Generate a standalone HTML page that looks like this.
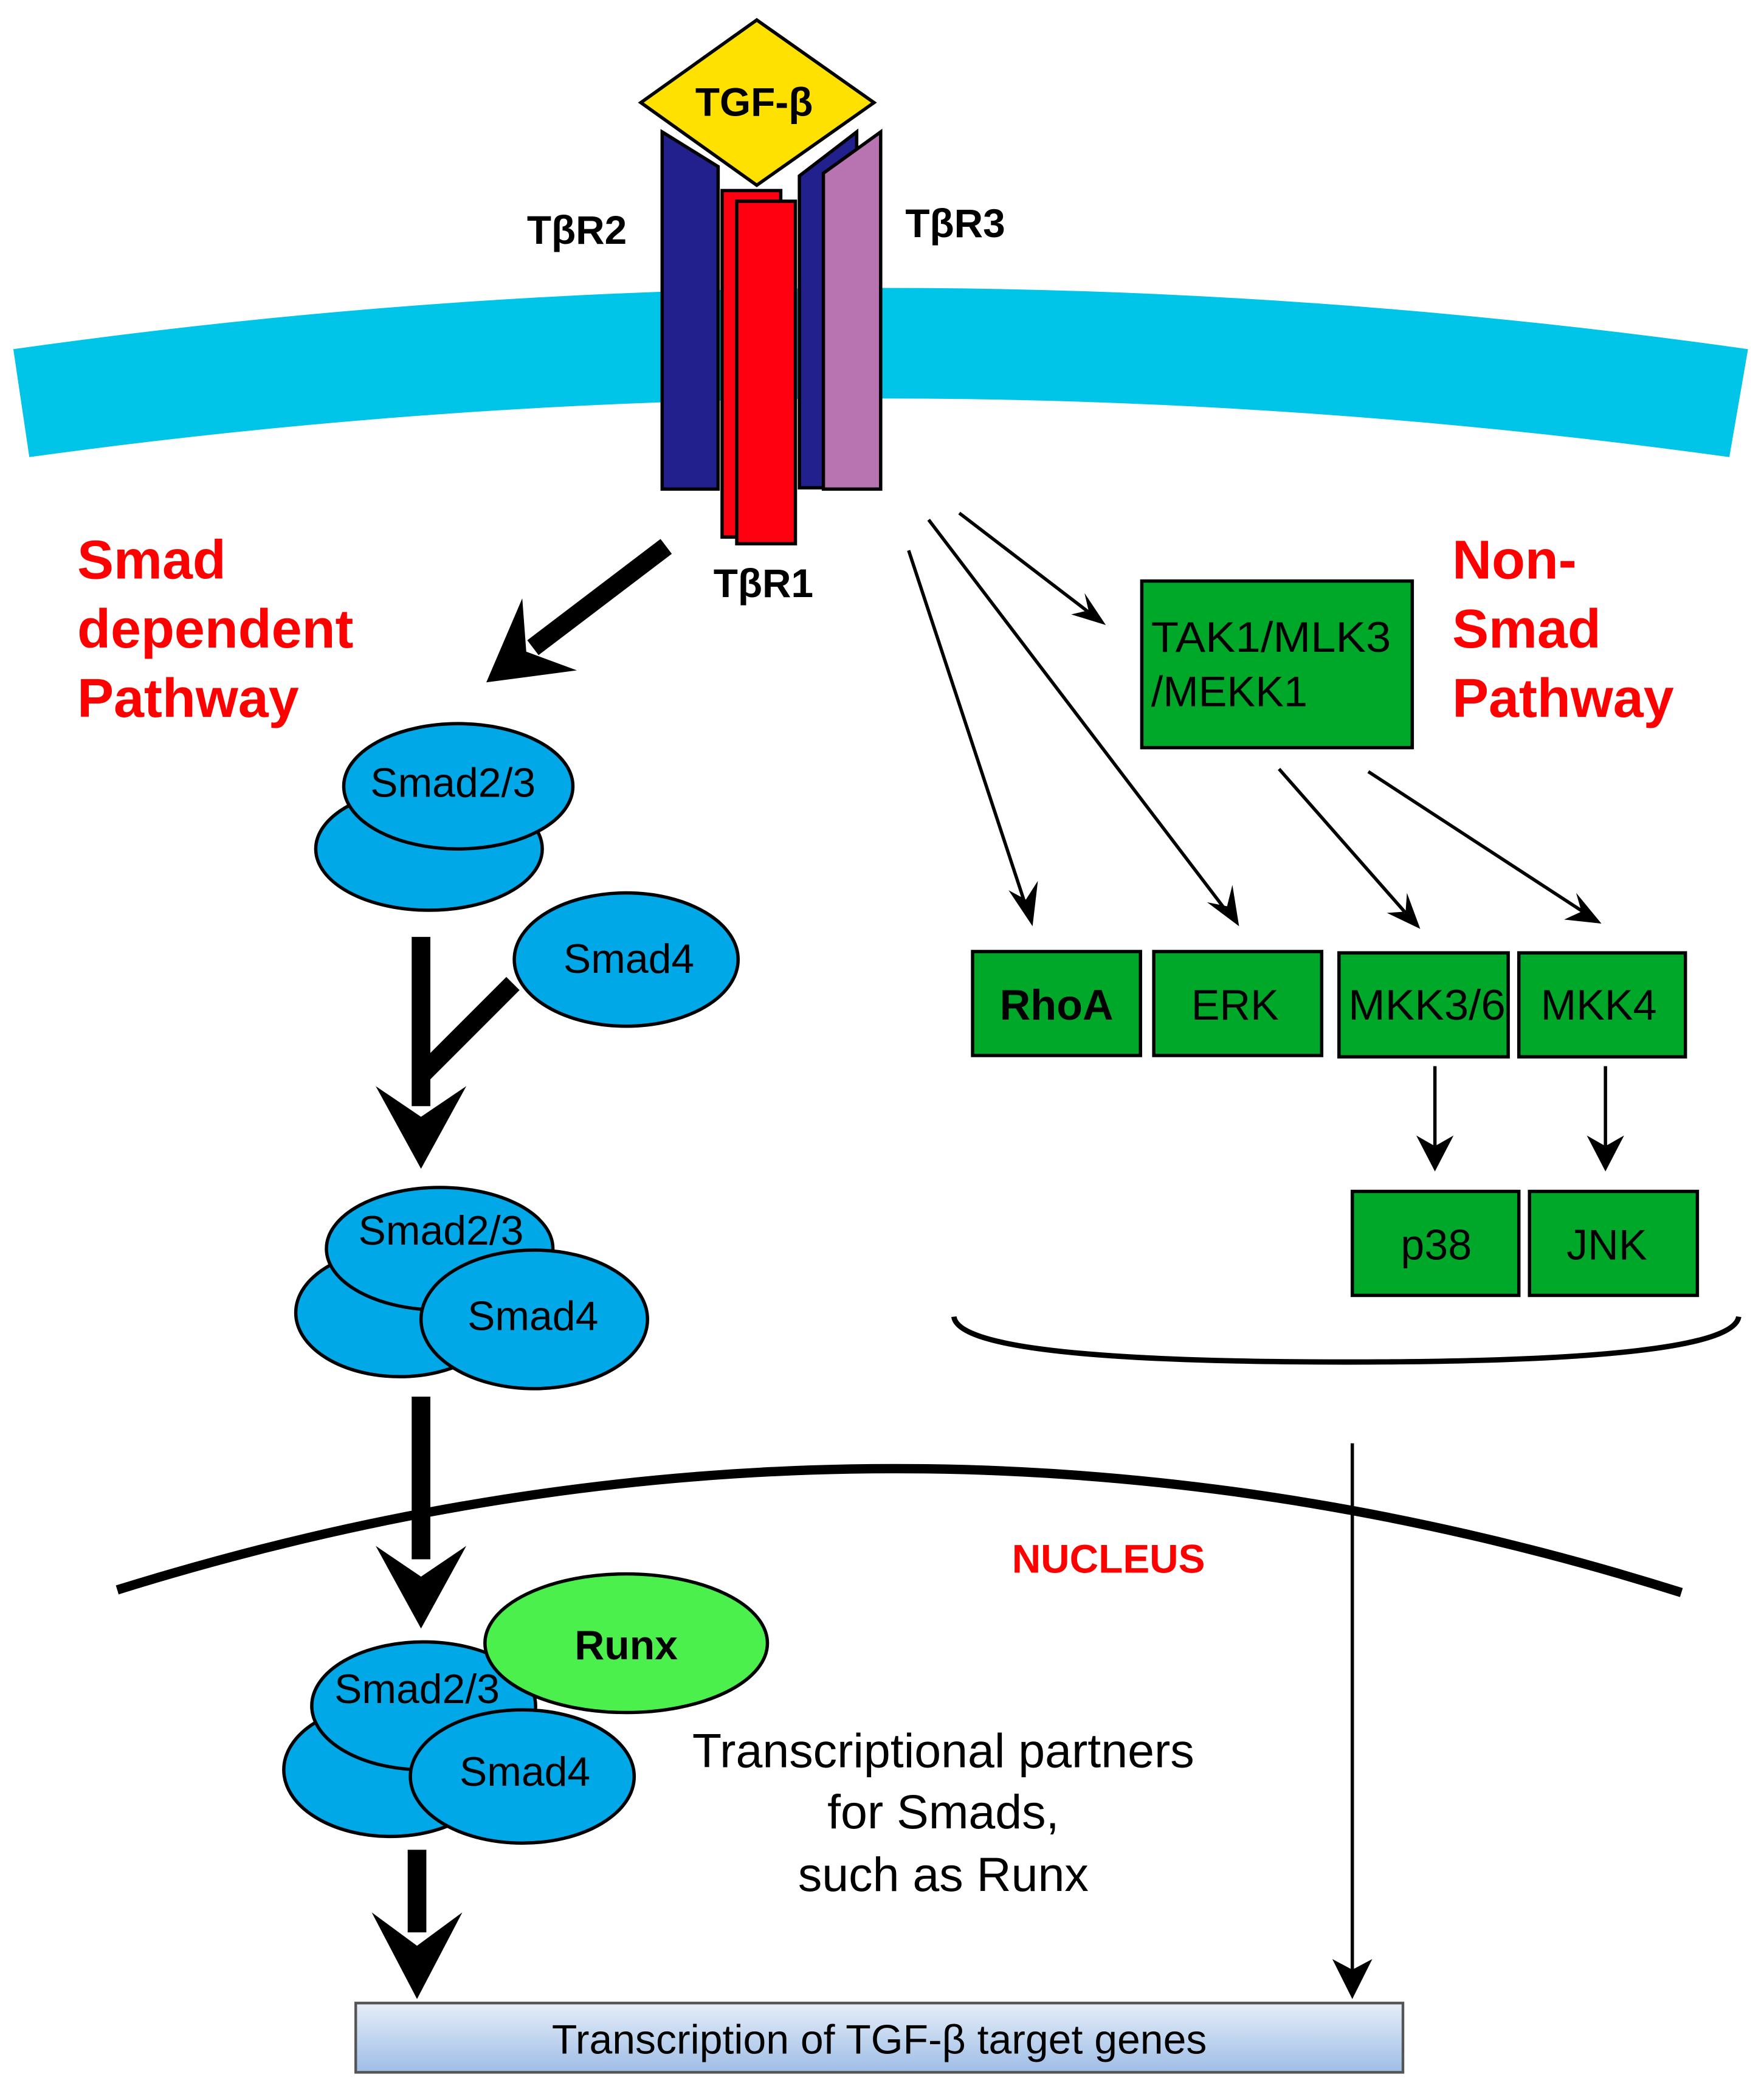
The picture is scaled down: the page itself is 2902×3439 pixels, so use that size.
<!DOCTYPE html>
<html><head><style>html,body{margin:0;padding:0;background:#fff}svg{display:block}svg text{font-family:"Liberation Sans",Arial,sans-serif}</style></head>
<body>
<svg width="2902" height="3439" viewBox="0 0 1324 1569" xmlns="http://www.w3.org/2000/svg" style="font-family:'Liberation Sans',sans-serif">
<defs>
<linearGradient id="gb" x1="0" y1="0" x2="0" y2="1"><stop offset="0" stop-color="#e6eef8"/><stop offset="1" stop-color="#9ebde6"/></linearGradient>
</defs>
<!-- membrane -->
<path d="M10,262 Q661,170 1312,262 L1298,343 Q661,255 22,343 Z" fill="#00c5e8"/>
<!-- receptors -->
<polygon points="497,99 539,125 539,367 497,367" fill="#21208c" stroke="#000" stroke-width="2.5"/>
<rect x="542" y="143" width="44" height="260" fill="#ff0010" stroke="#000" stroke-width="2.5"/>
<rect x="553" y="151" width="44" height="257" fill="#ff0010" stroke="#000" stroke-width="2.5"/>
<polygon points="600,132 643,99 643,366 600,366" fill="#21208c" stroke="#000" stroke-width="2.5"/>
<polygon points="618,130 661,99 661,367 618,367" fill="#b874b0" stroke="#000" stroke-width="2.5"/>
<polygon points="568,15 656,77 568,139 481,77" fill="#ffe100" stroke="#000" stroke-width="2.5"/>
<text x="566" y="87" font-size="30" font-weight="bold" text-anchor="middle">TGF-β</text>
<text x="433" y="183" font-size="30" font-weight="bold" text-anchor="middle">TβR2</text>
<text x="717" y="178" font-size="30" font-weight="bold" text-anchor="middle">TβR3</text>
<text x="573" y="448" font-size="30" font-weight="bold" text-anchor="middle">TβR1</text>
<!-- red labels -->
<g fill="#ff0000" font-size="41" font-weight="bold">
<text x="58" y="434">Smad</text><text x="58" y="486">dependent</text><text x="58" y="538">Pathway</text>
<text x="1090" y="434">Non-</text><text x="1090" y="486">Smad</text><text x="1090" y="538">Pathway</text>
</g>
<text x="832" y="1180" font-size="30" font-weight="bold" fill="#ff0000" text-anchor="middle">NUCLEUS</text>
<!-- big arrows -->
<g stroke="#000" stroke-width="14" fill="none">
<line x1="500" y1="410" x2="400" y2="486"/>
<line x1="316" y1="703" x2="316" y2="830"/>
<line x1="385" y1="738" x2="318" y2="805"/>
<line x1="316" y1="1048" x2="316" y2="1170"/>
<line x1="313" y1="1388" x2="313" y2="1450"/>
</g>
<polygon points="365,512 392,449 395,489 433,503" fill="#000"/>
<polygon points="316,877 282,815 316,838 350,815" fill="#000"/>
<polygon points="316,1222 282,1160 316,1183 350,1160" fill="#000"/>
<polygon points="313,1500 279,1435 313,1460 347,1435" fill="#000"/>
<!-- smads -->
<g stroke="#000" stroke-width="2.5" fill="#00a8e8">
<ellipse cx="322" cy="637" rx="85" ry="46"/>
<ellipse cx="344" cy="590" rx="86" ry="47"/>
<ellipse cx="470" cy="720" rx="84" ry="50"/>
<ellipse cx="300" cy="985" rx="78" ry="48"/>
<ellipse cx="330" cy="937" rx="85" ry="46"/>
<ellipse cx="401" cy="990" rx="85" ry="52"/>
<ellipse cx="293" cy="1328" rx="80" ry="50"/>
<ellipse cx="318" cy="1280" rx="84" ry="48"/>
<ellipse cx="392" cy="1333" rx="84" ry="50"/>
</g>
<ellipse cx="470" cy="1233" rx="106" ry="52" fill="#4cf04c" stroke="#000" stroke-width="2.5"/>
<g font-size="31" text-anchor="middle">
<text x="340" y="598">Smad2/3</text>
<text x="472" y="730">Smad4</text>
<text x="331" y="934">Smad2/3</text>
<text x="400" y="998">Smad4</text>
<text x="313" y="1278">Smad2/3</text>
<text x="394" y="1340">Smad4</text>
<text x="470" y="1245" font-weight="bold">Runx</text>
</g>
<g font-size="36" text-anchor="middle">
<text x="708" y="1326">Transcriptional partners</text>
<text x="708" y="1372">for Smads,</text>
<text x="708" y="1419">such as Runx</text>
</g>
<!-- nucleus -->
<path d="M88,1193 Q675,1010 1262,1195" fill="none" stroke="#000" stroke-width="7"/>
<!-- bracket -->
<path d="M716,988 Q720,1022 1010,1022 Q1300,1022 1305,988" fill="none" stroke="#000" stroke-width="4"/>
<!-- green boxes -->
<g fill="#00a82a" stroke="#000" stroke-width="2.5">
<rect x="857" y="436" width="203" height="125"/>
<rect x="730" y="714" width="126" height="78"/>
<rect x="866" y="714" width="126" height="78"/>
<rect x="1005" y="715" width="127" height="78"/>
<rect x="1140" y="715" width="125" height="78"/>
<rect x="1015" y="894" width="125" height="78"/>
<rect x="1148" y="894" width="126" height="78"/>
</g>
<g font-size="32">
<text x="864" y="489" textLength="180" lengthAdjust="spacingAndGlyphs">TAK1/MLK3</text>
<text x="864" y="530">/MEKK1</text>
<text x="793" y="765" text-anchor="middle" font-weight="bold">RhoA</text>
<text x="927" y="765" text-anchor="middle">ERK</text>
<text x="1012" y="765" textLength="118" lengthAdjust="spacingAndGlyphs">MKK3/6</text>
<text x="1200" y="765" text-anchor="middle">MKK4</text>
<text x="1078" y="945" text-anchor="middle">p38</text>
<text x="1206" y="945" text-anchor="middle">JNK</text>
</g>
<!-- thin arrows -->
<g stroke="#000" stroke-width="2.5">
<line x1="682" y1="413" x2="770" y2="680"/>
<line x1="697" y1="390" x2="920" y2="683"/>
<line x1="720" y1="385" x2="818" y2="460"/>
<line x1="960" y1="577" x2="1055" y2="685"/>
<line x1="1027" y1="579" x2="1188" y2="684"/>
<line x1="1077" y1="800" x2="1077" y2="865"/>
<line x1="1205" y1="800" x2="1205" y2="865"/>
<line x1="1015" y1="1083" x2="1015" y2="1485"/>
</g>
<g fill="#000">
<polygon points="775,695 757,668 770,675 779,661"/>
<polygon points="930,695 906,677 921,680 925,664"/>
<polygon points="830,469 804,461 817,458 814,445"/>
<polygon points="1066,697 1041,685 1055,684 1056,670"/>
<polygon points="1202,693 1174,690 1187,684 1183,670"/>
<polygon points="1077,879 1063,852 1077,860 1091,852"/>
<polygon points="1205,879 1191,852 1205,860 1219,852"/>
<polygon points="1015,1500 1000,1470 1015,1478 1030,1470"/>
</g>
<!-- bottom box -->
<rect x="267" y="1503" width="786" height="52" fill="url(#gb)" stroke="#555" stroke-width="2"/>
<text x="660" y="1541" font-size="31" text-anchor="middle">Transcription of TGF-β target genes</text>
</svg>
</body></html>
